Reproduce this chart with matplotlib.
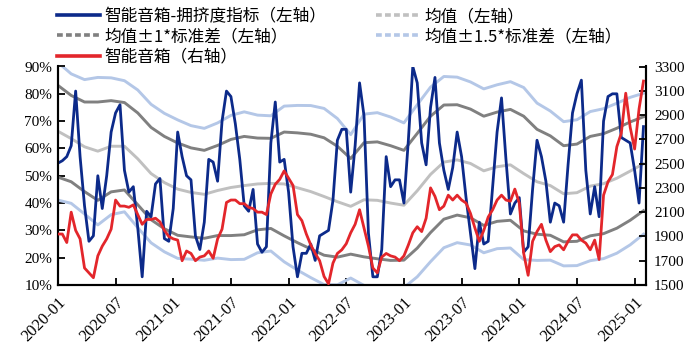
import matplotlib
matplotlib.use('Agg')
import matplotlib.pyplot as plt
from matplotlib.lines import Line2D
import numpy as np
import pandas as pd

start_date = '2020-01-03'

# 智能音箱-拥挤度指标 (biweekly, %)
crowd = [54.6, 55.5, 57, 61, 81, 57, 39, 26, 28, 50,
         38, 50, 66, 73, 76, 52, 44, 46, 31, 13,
         37, 35, 47, 49, 27, 26, 38, 66, 57, 50,
         48.5, 28, 23, 33, 56, 55, 48, 70, 81, 79,
         69, 56, 39, 37, 45, 25, 22, 24, 62, 77,
         55, 56, 44, 24, 13, 21.6, 21.6, 25, 19, 28,
         29, 30, 41, 63, 67, 67, 44, 61, 84, 72,
         29, 13, 13, 23, 57, 46, 48.5, 48.5, 40, 63,
         90, 84, 62, 54, 75, 86, 62, 52, 45, 53,
         66, 57, 42, 29, 16, 33, 25, 26, 46, 66,
         78.5, 56, 36, 40, 42, 22, 24, 45, 63, 57,
         48, 33, 40, 39, 33, 54, 73, 80, 85, 52,
         36, 46, 35, 70, 79, 80, 80, 64, 63, 62,
         52, 40, 68]

# 智能音箱 index (biweekly, right axis)
speaker = [1920, 1920, 1850, 2100, 1950, 1880, 1640, 1600, 1560, 1740,
           1820, 1880, 1960, 2200, 2150, 2150, 2140, 2160, 2080, 2000,
           2040, 2040, 2050, 2020, 1950, 1900, 1880, 1870, 1700, 1780,
           1760, 1700, 1730, 1740, 1780, 1720, 1880, 1960, 2180, 2200,
           2200, 2170, 2170, 2140, 2130, 2100, 2100, 2080, 2250, 2330,
           2370, 2440, 2380, 2320, 2080, 2030, 1920, 1830, 1760, 1700,
           1570, 1510, 1680, 1760, 1790, 1840, 1930, 2000, 2120, 1970,
           1820, 1640, 1600, 1730, 1760, 1740, 1730, 1700, 1740, 1830,
           1930, 1980, 1940, 2050, 2300, 2230, 2120, 2150, 2240, 2200,
           2240, 2200, 2175, 2090, 1970, 1860, 1950, 2060, 2120, 2200,
           2240, 2200, 2190, 2290, 2175, 1760, 1580, 1860, 1940, 2000,
           1870, 1775, 1816, 1830, 1790, 1860, 1913, 1913, 1870, 1845,
           1790, 1870, 1710, 2240, 2350, 2410, 2640, 2750, 3080, 2800,
           2620, 2950, 3180]

# rolling mean and standard deviation of the crowding index (every 6 weeks, %)
mean_vals = [66.3, 63.6, 60.6, 59.0, 60.8, 60.8, 56.2, 50.8, 47.5, 45.1,
             43.9, 43.2, 44.6, 45.7, 46.4, 47.0, 47.2, 47.0, 45.6, 44.2,
             42.4, 40.5, 38.8, 41.2, 41.0, 40.0, 39.2, 44.5, 50.5, 55.0,
             55.8, 54.5, 51.8, 53.3, 54.0, 50.8, 47.8, 46.4, 43.4, 43.8,
             46.2, 47.1, 49.1, 51.7, 54.4]
std_vals = [16.8, 15.8, 16.4, 18.0, 16.7, 16.0, 16.8, 16.9, 16.9, 16.9,
            16.3, 16.1, 16.5, 17.6, 18.0, 16.8, 16.5, 19.0, 20.1, 21.0,
            21.5, 20.3, 17.5, 20.9, 21.4, 21.0, 20.1, 21.0, 21.3, 20.9,
            20.2, 19.9, 20.0, 20.0, 20.3, 21.0, 19.2, 18.2, 17.6, 17.8,
            18.2, 18.3, 18.3, 18.0, 17.2]

tick_labels = ['2020-01', '2020-07', '2021-01', '2021-07', '2022-01', '2022-07',
               '2023-01', '2023-07', '2024-01', '2024-07', '2025-01']
left_ticks = [10, 20, 30, 40, 50, 60, 70, 80, 90]
right_ticks = [1500, 1700, 1900, 2100, 2300, 2500, 2700, 2900, 3100, 3300]

legend_labels = ['智能音箱-拥挤度指标（左轴）', '均值±1*标准差（左轴）', '智能音箱（右轴）',
                 '均值（左轴）', '均值±1.5*标准差（左轴）']

C_BLUE = '#0c2a8a'
C_RED = '#e3262b'
C_DGRAY = '#808080'
C_LGRAY = '#c0c0c0'
C_LBLUE = '#b4c7e7'

dates = pd.date_range(start_date, periods=len(crowd), freq='14D')
band_dates = pd.date_range(start_date, periods=len(mean_vals), freq='42D')
mean = np.array(mean_vals)
std = np.array(std_vals)

serif = 'Liberation Serif'
cjk = ['Noto Sans CJK SC', 'DejaVu Sans']

fig = plt.figure(figsize=(6.98, 3.63), dpi=100)
ax = fig.add_axes([57.9 / 698, 78 / 363, (645.7 - 57.9) / 698, 218.5 / 363])

lw_band = 2.1
ax.plot(band_dates, mean + 1.5 * std, color=C_LBLUE, lw=lw_band, zorder=2)
ax.plot(band_dates, mean - 1.5 * std, color=C_LBLUE, lw=lw_band, zorder=2)
ax.plot(band_dates, mean + std, color=C_DGRAY, lw=lw_band, zorder=3)
ax.plot(band_dates, mean - std, color=C_DGRAY, lw=lw_band, zorder=3)
ax.plot(band_dates, mean, color=C_LGRAY, lw=lw_band, zorder=3)
ax.plot(dates, crowd, color=C_BLUE, lw=2.0, zorder=4)

ax.set_ylim(10, 90)
ax.set_yticks(left_ticks)
ax.set_yticklabels([f'{v}%' for v in left_ticks], fontfamily=serif, fontsize=11)

x_end = dates[0] + pd.Timedelta(days=14 * 132.5)
ax.set_xlim(dates[0], x_end)
ax.set_xticks(dates[::13])
ax.set_xticklabels(tick_labels, rotation=45, ha='right', rotation_mode='anchor',
                   fontfamily=serif, fontsize=12)

ax2 = ax.twinx()
ax2.plot(dates, speaker, color=C_RED, lw=2.0, zorder=5)
ax2.set_ylim(1500, 3300)
ax2.set_yticks(right_ticks)
ax2.set_yticklabels([str(v) for v in right_ticks], fontfamily=serif, fontsize=11)
ax2.set_xlim(dates[0], x_end)

for a in (ax, ax2):
    a.spines['top'].set_visible(False)
    for s in ('left', 'right', 'bottom'):
        a.spines[s].set_linewidth(1.5)
        a.spines[s].set_color('black')
    a.tick_params(direction='in', length=5, width=1.3, colors='black')
ax.tick_params(axis='x', pad=7)
ax.tick_params(axis='y', pad=4)
ax2.tick_params(axis='y', pad=6)

dash = (0, (1.6, 0.9))
handles = [Line2D([], [], color=C_BLUE, lw=2.6),
           Line2D([], [], color=C_DGRAY, lw=2.6, ls=dash),
           Line2D([], [], color=C_RED, lw=2.6),
           Line2D([], [], color=C_LGRAY, lw=2.6, ls=dash),
           Line2D([], [], color=C_LBLUE, lw=2.6, ls=dash)]
fig.legend(handles, legend_labels, ncol=2, loc='upper left',
           bbox_to_anchor=(57 / 698, 1 - 8 / 363), frameon=False,
           borderpad=0, borderaxespad=0, handlelength=2.6, handletextpad=0.25,
           columnspacing=3.0, labelspacing=0.2,
           prop={'family': cjk, 'size': 12})

fig.savefig('out.png', dpi=100)
